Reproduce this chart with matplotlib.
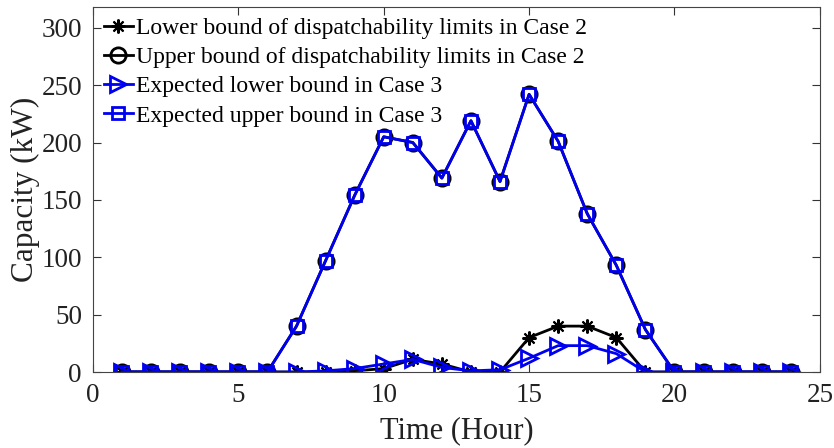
import numpy as np
import matplotlib.pyplot as plt

plt.rcParams['font.family'] = ['Liberation Serif', 'DejaVu Serif']

hours = np.arange(1, 25)
upper_case2 = [0, 0, 0, 0, 0, 0, 40, 97, 154, 205, 200, 169,
               219, 166, 242, 201, 138, 93, 37, 0, 0, 0, 0, 0]
lower_case2 = [0, 0, 0, 0, 0, 0, 0, 0, 1, 3, 11, 7,
               0, 0, 30, 40, 40, 30, 0, 0, 0, 0, 0, 0]
upper_case3 = list(upper_case2)
lower_case3 = [0, 0, 0, 0, 0, 0, 0, 1, 3, 7, 11, 4,
               1, 2, 12, 23, 23, 16, 0, 0, 0, 0, 0, 0]

blue = '#0000f0'

fig = plt.figure(figsize=(8.34, 4.48), dpi=100)
ax = fig.add_axes([0.1115, 0.1696, 0.8715, 0.8145])

ax.plot(hours, lower_case2, '-', marker=(8, 2, 0), color='k', lw=2, ms=10,
        mew=1.5, label='Lower bound of dispatchability limits in Case 2')
ax.plot(hours, upper_case2, '-o', color='k', lw=2, ms=11, mew=2,
        mfc='none', label='Upper bound of dispatchability limits in Case 2')
ax.plot(hours, lower_case3, '->', color=blue, lw=2, ms=11, mew=2,
        mfc='none', label='Expected lower bound in Case 3')
ax.plot(hours, upper_case3, '-s', color=blue, lw=2, ms=8.5, mew=2,
        mfc='none', label='Expected upper bound in Case 3')

ax.set_xlim(0, 25)
ax.set_ylim(0, 318)
ax.set_xticks([0, 5, 10, 15, 20, 25])
ax.set_yticks([0, 50, 100, 150, 200, 250, 300])
ax.tick_params(direction='in', top=True, right=True, labelsize=19.5,
               length=6, width=0.8, pad=8, colors='#333333',
               labelcolor='#222222')
for s in ax.spines.values():
    s.set_color('#444444')
    s.set_linewidth(0.8)

ax.set_xlabel('Time (Hour)', fontsize=22, labelpad=6, color='#222222')
ax.set_ylabel('Capacity (kW)', fontsize=22.5, labelpad=1, color='#222222')

ax.legend(loc='upper left', frameon=False, fontsize=17, handlelength=1.25,
          handletextpad=0.12, labelspacing=0.32, borderaxespad=0.15,
          borderpad=0.3)

fig.savefig('out.png', dpi=100)
